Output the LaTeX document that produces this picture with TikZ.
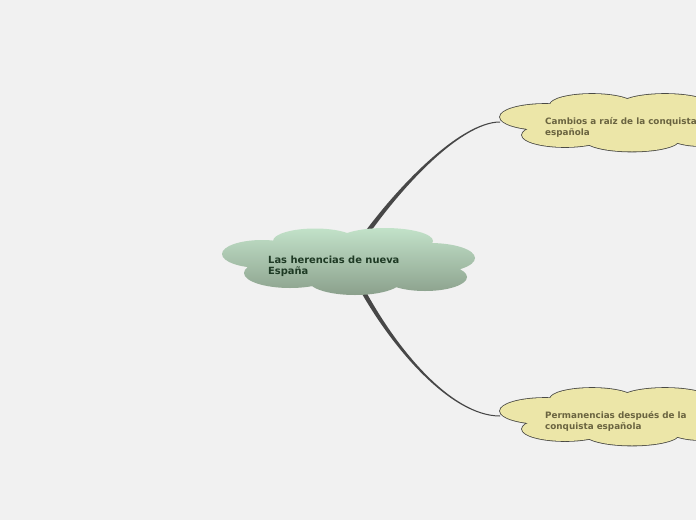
\documentclass[tikz,border=0pt]{standalone}
\usepackage{fontspec}
\setmainfont{DejaVu Sans}
\definecolor{bg}{HTML}{F1F1F1}
\definecolor{cloudtop}{HTML}{C2E2C9}
\definecolor{cloudbot}{HTML}{8BA08C}
\definecolor{maintext}{HTML}{1E3A24}
\definecolor{yfill}{HTML}{ECE6A8}
\definecolor{yline}{HTML}{4A4A45}
\definecolor{ytext}{HTML}{6A6440}
\definecolor{conn}{HTML}{474747}
\tikzset{
  maintxt/.style={anchor=base west,inner sep=0pt,align=left,font=\bfseries\fontsize{9.9}{11.7}\selectfont,text=maintext},
  subtxt/.style={anchor=base west,inner sep=0pt,align=left,font=\bfseries\fontsize{8.8}{11}\selectfont,text=ytext},
  connector/.style={fill=conn,draw=none}
}
\begin{document}
\begin{tikzpicture}[x=1pt,y=-1pt]
\fill[bg] (0,0) rectangle (696,520);
\useasboundingbox (0,0) rectangle (696,520);
% anchors
\coordinate (t1) at (500,122);
\coordinate (t2) at (500,416);
% connectors (tapered)
\fill[connector] (340,270) -- (352.9,248.6) .. controls (393.5,189) and (460,121.3) .. (500,121.5) -- (t1) -- (500,122.5) .. controls (460,122.7) and (396.5,191) .. (357.1,251.4) -- (345,272) -- cycle;
\fill[connector] (340,256) -- (352.8,277.1) .. controls (388.5,345.7) and (450,416.6) .. (500,416.5) -- (t2) -- (500,415.5) .. controls (450,415.4) and (391.5,344.3) .. (357.2,274.9) -- (345,254) -- cycle;
% central cloud
\shade[top color=cloudtop,bottom color=cloudbot]
  (262,254) ellipse [x radius=40,y radius=14]
  (290,273) ellipse [x radius=46,y radius=15]
  (315,241) ellipse [x radius=42,y radius=12.5]
  (385,241) ellipse [x radius=48,y radius=13]
  (430,258) ellipse [x radius=45,y radius=15]
  (425,277) ellipse [x radius=42,y radius=14]
  (355,281) ellipse [x radius=46,y radius=14]
  (350,260) ellipse [x radius=80,y radius=20];
\node[maintxt] (main) at (268,274.7) {Las herencias de nueva\\España};
% top yellow cloud
\begin{scope}
\draw[yline,line width=1.6pt]
  (545,117) ellipse [x radius=45,y radius=13]
  (592,105) ellipse [x radius=42,y radius=11]
  (665,105) ellipse [x radius=45,y radius=11]
  (565,135) ellipse [x radius=43,y radius=12]
  (632,140) ellipse [x radius=47,y radius=11.5]
  (700,128) ellipse [x radius=40,y radius=18];
\fill[yfill]
  (545,117) ellipse [x radius=45,y radius=13]
  (592,105) ellipse [x radius=42,y radius=11]
  (665,105) ellipse [x radius=45,y radius=11]
  (565,135) ellipse [x radius=43,y radius=12]
  (632,140) ellipse [x radius=47,y radius=11.5]
  (700,128) ellipse [x radius=40,y radius=18]
  (620,122) ellipse [x radius=70,y radius=15];
\end{scope}
\node[subtxt] (cambios) at (545,135.3) {Cambios a raíz de la conquista\\española};
% bottom yellow cloud
\begin{scope}[yshift=-294pt]
\draw[yline,line width=1.6pt]
  (545,117) ellipse [x radius=45,y radius=13]
  (592,105) ellipse [x radius=42,y radius=11]
  (665,105) ellipse [x radius=45,y radius=11]
  (565,135) ellipse [x radius=43,y radius=12]
  (632,140) ellipse [x radius=47,y radius=11.5]
  (700,128) ellipse [x radius=40,y radius=18];
\fill[yfill]
  (545,117) ellipse [x radius=45,y radius=13]
  (592,105) ellipse [x radius=42,y radius=11]
  (665,105) ellipse [x radius=45,y radius=11]
  (565,135) ellipse [x radius=43,y radius=12]
  (632,140) ellipse [x radius=47,y radius=11.5]
  (700,128) ellipse [x radius=40,y radius=18]
  (620,122) ellipse [x radius=70,y radius=15];
\end{scope}
\node[subtxt] (perm) at (545,429) {Permanencias después de la\\conquista española};
\end{tikzpicture}
\end{document}
